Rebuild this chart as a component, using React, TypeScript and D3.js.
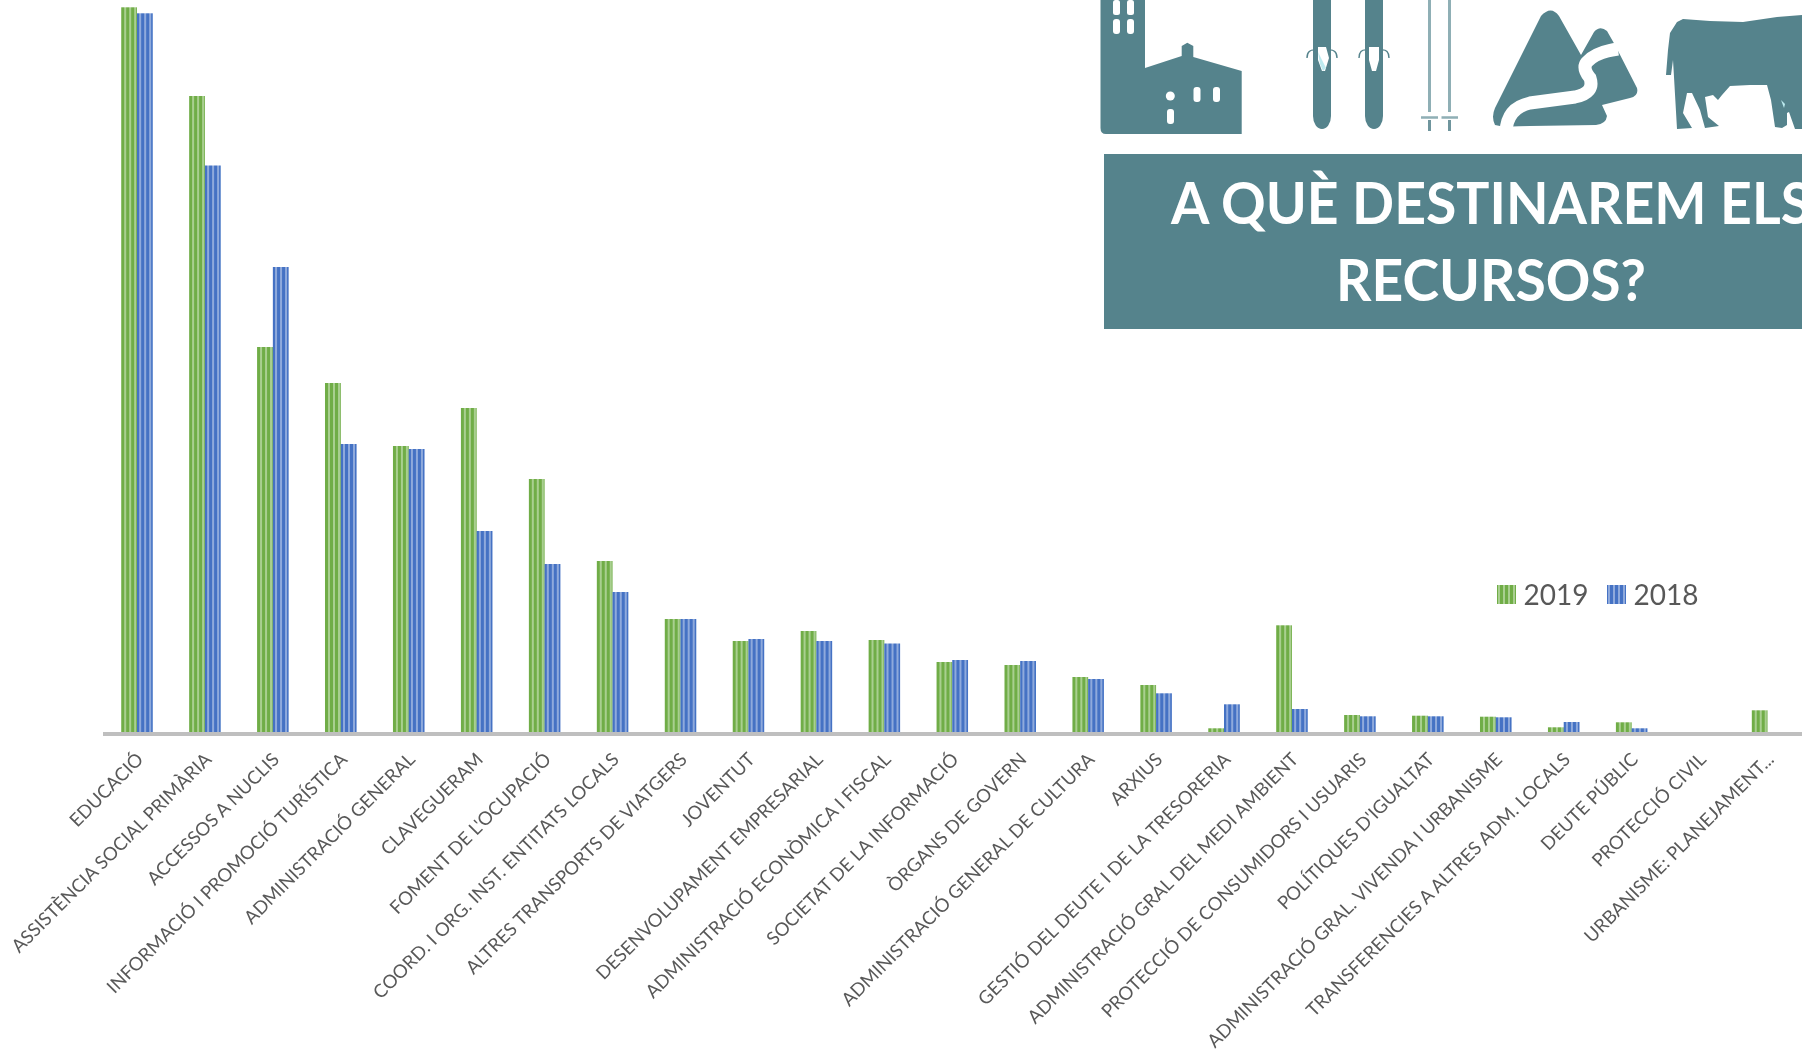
import React from "react";
import * as d3 from "d3";

const categories = [
  "EDUCACIÓ", "ASSISTÈNCIA SOCIAL PRIMÀRIA", "ACCESSOS A NUCLIS", "INFORMACIÓ I PROMOCIÓ TURÍSTICA",
  "ADMINISTRACIÓ GENERAL", "CLAVEGUERAM", "FOMENT DE L'OCUPACIÓ", "COORD. I ORG. INST. ENTITATS LOCALS",
  "ALTRES TRANSPORTS DE VIATGERS", "JOVENTUT", "DESENVOLUPAMENT EMPRESARIAL", "ADMINISTRACIÓ ECONÒMICA I FISCAL",
  "SOCIETAT DE LA INFORMACIÓ", "ÒRGANS DE GOVERN", "ADMINISTRACIÓ GENERAL DE CULTURA", "ARXIUS",
  "GESTIÓ DEL DEUTE I DE LA TRESORERIA", "ADMINISTRACIÓ GRAL DEL MEDI AMBIENT", "PROTECCIÓ DE CONSUMIDORS I USUARIS",
  "POLÍTIQUES D'IGUALTAT", "ADMINISTRACIÓ GRAL. VIVENDA I URBANISME", "TRANSFERENCIES A ALTRES ADM. LOCALS",
  "DEUTE PÚBLIC", "PROTECCIÓ CIVIL", "URBANISME: PLANEJAMENT...",
];
const values2019 = [724.7, 636, 385, 349, 286, 324, 253, 171, 113, 91, 101, 92, 70, 67, 55, 47, 3.7, 106.7, 17, 16.3, 15.3, 4.7, 9.7, 0, 21.7];
const values2018 = [718.7, 566.5, 465, 288, 283, 201, 168, 140, 113, 93, 91, 88.5, 72, 71, 53, 38.7, 27.7, 23, 15.7, 15.7, 14.7, 10, 3.7, 0, 0];
const seriesNames = ["2019", "2018"];
const titleLines = ["A QUÈ DESTINAREM ELS", "RECURSOS?"];

const TEAL = "#55838C";
const GREY = "#595959";

const x0 = d3.scaleBand<string>().domain(categories).range([103, 1801.5]).paddingInner(0.535).paddingOuter(0.2675);
const x1 = d3.scaleBand<string>().domain(seriesNames).range([0, x0.bandwidth()]);
const y = d3.scaleLinear().domain([0, 732]).range([732, 0]);

function Icons() {
  return (
    <g>
      {/* church */}
      <path fill={TEAL} d="M1100.5 0 H1145 V68 L1181.7 56 V46 L1187.3 42.7 L1193.3 46 V57 L1241.7 71 V134 H1106 Q1100.5 134 1100.5 128 Z" />
      <g fill="#fff">
        <rect x="1113" y="0" width="7" height="15" rx="2.5" />
        <rect x="1127" y="0" width="7" height="15" rx="2.5" />
        <rect x="1113" y="19" width="7" height="15" rx="3" />
        <rect x="1127" y="19" width="7" height="15" rx="3" />
        <circle cx="1170.3" cy="96" r="4.5" />
        <rect x="1167" y="109" width="7" height="15" rx="3" />
        <rect x="1193.5" y="87" width="7" height="15" rx="3" />
        <rect x="1213" y="87" width="7" height="15" rx="3" />
      </g>
      {/* skis */}
      <path fill={TEAL} d="M1313 0 H1331 V116 A9 13 0 0 1 1313 116 Z M1365 0 H1383 V116 A9 13 0 0 1 1365 116 Z" />
      <path fill="#fff" d="M1318 47 H1326 L1329 58 L1325 71 H1322 L1318 60 Z M1369 47 H1379 L1379 60 L1376 71 H1372 L1369 60 Z" />
      <path fill="#BDEBF0" d="M1318 52 L1326 68 L1323 71 L1320 64 Z" />
      <path fill="none" stroke={TEAL} strokeWidth="1.4" d="M1307 58 Q1307 49 1316 50 M1337 58 Q1337 49 1328 50 M1359 58 Q1359 49 1367 50 M1389 58 Q1389 49 1381 50" />
      {/* poles */}
      <path fill="none" stroke="#8FAFB5" strokeWidth="3" d="M1429.5 0 V112 M1449.5 0 V112" />
      <path fill="none" stroke={TEAL} strokeWidth="3" d="M1429.5 120 V131 M1449.5 120 V131" opacity="0.85" />
      <path fill="none" stroke="#8FAFB5" strokeWidth="2.4" d="M1421 117.5 H1438 M1441.5 117.5 H1458" />
      {/* mountains with road */}
      <path fill={TEAL} d="M1495 125 Q1491 117 1495 108 L1541 16 Q1551 5 1559 16 L1581 55 L1594 32 Q1600 25 1607 31 L1615 45 L1637 88 Q1639 96 1630 98 L1602 105 L1607 116 Q1606 124 1596 125 L1530 126 Q1520 126 1505 127 Z" />
      <path fill="none" stroke="#fff" strokeWidth="13" strokeLinecap="butt" d="M1506 132 Q1507 108 1530 103 Q1560 99 1575 97 Q1595 93 1590 78 Q1582 68 1587 62 Q1596 52 1618 49" />
      {/* cow */}
      <path fill={TEAL} d="M1666 75 L1668 50 L1670 33 L1677 22 L1683 19 L1710 21 L1743 22 L1777 17 L1802 15 V129 L1795 129 L1789 112 L1787 113 L1787 125 L1782 128 L1775 127 L1771 100 L1767 85 L1750 85 L1730 86 L1722 95 L1718 100 L1713 95 L1705 97 L1708 117 L1719 126 L1705 128 L1700 110 L1692 93 L1687 93 L1683 113 L1692 128 L1677 129 L1674 77 L1673 60 L1671 75 Z" />
      <path fill="#BDEBF0" d="M1781 100 L1785 104 L1784 108 Z" />
    </g>
  );
}

export default function App() {
  const base = y(0);
  return (
    <svg width={1802} height={1050} style={{ position: "absolute", top: 0, left: 0, display: "block", background: "#fff" }}>
      <defs>
        <pattern id="pGreen" patternUnits="userSpaceOnUse" width="5" height="10">
          <rect width="5" height="10" fill="#70AD47" />
          <rect x="3" width="2" height="10" fill="#A9CF90" />
        </pattern>
        <pattern id="pBlue" patternUnits="userSpaceOnUse" width="5" height="10">
          <rect width="5" height="10" fill="#4472C4" />
          <rect x="3" width="2" height="10" fill="#8FAADC" />
        </pattern>
        <filter id="soft" x="-2%" y="-2%" width="104%" height="104%">
          <feGaussianBlur stdDeviation="0.45" />
        </filter>
      </defs>
      <g filter="url(#soft)">
        <Icons />
        <rect x={1104} y={154} width={698} height={175} fill={TEAL} />
        <g fill="#fff" fontFamily="Lato" fontWeight="700" fontSize="58" textAnchor="start">
          <text x={1171} y={223.5} textLength={640} lengthAdjust="spacingAndGlyphs">{titleLines[0]}</text>
          <text x={1336} y={301} textLength={310} lengthAdjust="spacingAndGlyphs">{titleLines[1]}</text>
        </g>

        {categories.map((c, i) => (
          <g key={c} transform={`translate(${x0(c)},0)`}>
            {[values2019[i], values2018[i]].map((v, j) => (
              <rect
                key={j}
                x={x1(seriesNames[j])}
                y={y(v)}
                width={x1.bandwidth()}
                height={base - y(v)}
                fill={j === 0 ? "url(#pGreen)" : "url(#pBlue)"}
              />
            ))}
          </g>
        ))}
        <rect x={x0.range()[0]} y={base} width={1802 - x0.range()[0]} height={4} fill="#BFBFBF" />

        <g fill={GREY} fontFamily="Lato" fontSize="18.5" textAnchor="end">
          {categories.map((c) => {
            const cx = (x0(c) as number) + x0.bandwidth() / 2 - 1.7;
            return (
              <text key={c} transform={`translate(${cx},${base + 19.3}) rotate(-45)`} dy="0.71em">{c}</text>
            );
          })}
        </g>

        <g fontFamily="Lato" fontSize="28" fill={GREY}>
          <rect x={1497} y={585} width={19} height={19} fill="url(#pGreen)" />
          <text x={1523.5} y={604.5}>{seriesNames[0]}</text>
          <rect x={1607} y={585} width={19} height={19} fill="url(#pBlue)" />
          <text x={1633.5} y={604.5}>{seriesNames[1]}</text>
        </g>
      </g>
    </svg>
  );
}
